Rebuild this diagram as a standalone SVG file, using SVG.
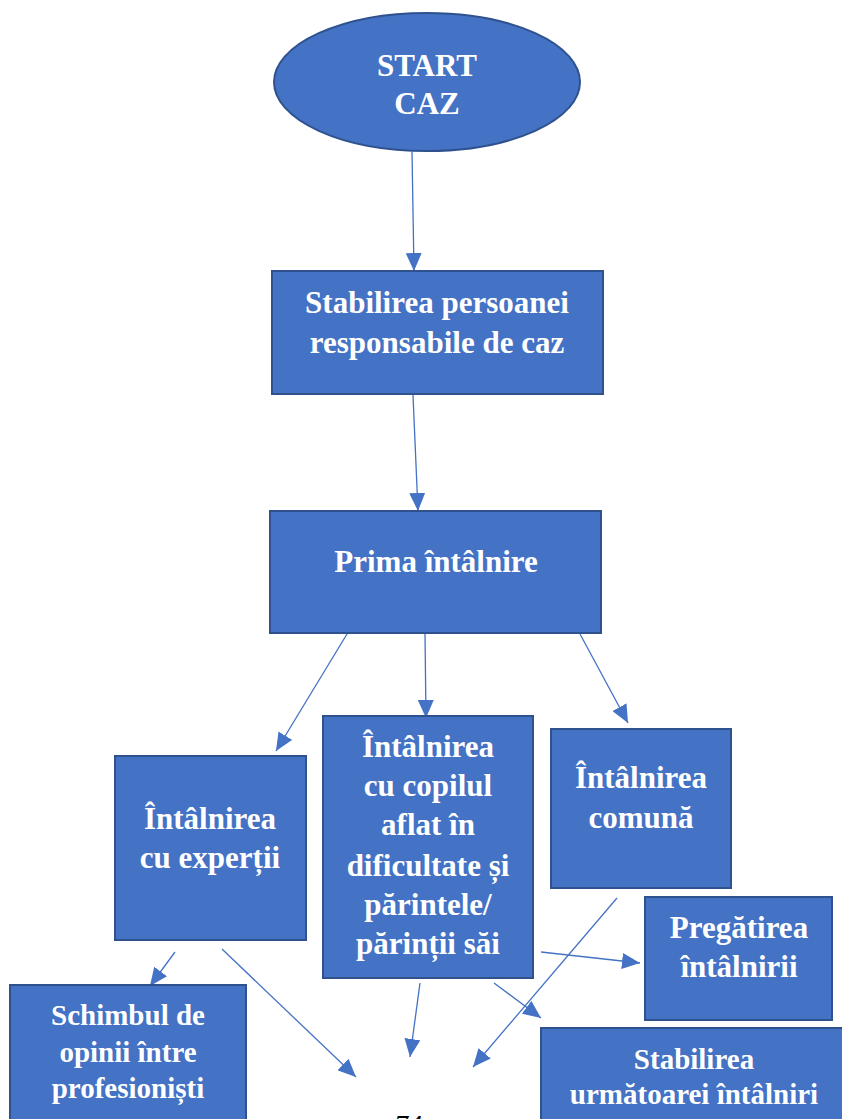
<svg xmlns="http://www.w3.org/2000/svg" width="842" height="1119" viewBox="0 0 842 1119">
<style>
.box{fill:#4472C4;stroke:#2F528F;stroke-width:2}
.t{font-family:"Liberation Serif","Times New Roman",serif;font-weight:bold;fill:#fff;text-anchor:middle;font-size:31px}
.s{font-size:29px}
.c{stroke:#4472C4;stroke-width:1.3;fill:none;marker-end:url(#ah)}
</style>
<defs>
<marker id="ah" markerUnits="userSpaceOnUse" markerWidth="20" markerHeight="16" refX="18" refY="8" orient="auto">
<path d="M0,0 L18,8 L0,16 Z" fill="#4472C4"/>
</marker>
</defs>
<g id="connectors">
<line class="c" x1="412" y1="152" x2="414" y2="271"/>
<line class="c" x1="413" y1="395" x2="418" y2="511"/>
<line class="c" x1="347" y1="634" x2="276" y2="751"/>
<line class="c" x1="425" y1="634" x2="426" y2="718"/>
<line class="c" x1="580" y1="634" x2="628" y2="723"/>
<line class="c" x1="175" y1="952" x2="150" y2="986"/>
<line class="c" x1="222" y1="949" x2="356" y2="1077"/>
<line class="c" x1="541" y1="952" x2="640" y2="963"/>
<line class="c" x1="420" y1="983" x2="410" y2="1057"/>
<line class="c" x1="494" y1="983" x2="541" y2="1018"/>
<line class="c" x1="617" y1="898" x2="473" y2="1067"/>
</g>
<g id="start">
<ellipse class="box" cx="427" cy="82" rx="153" ry="69"/>
<text class="t" x="427" y="76" font-size="34">START</text>
<text class="t" x="427" y="114" font-size="34">CAZ</text>
</g>
<g id="responsabil">
<rect class="box" x="272" y="271" width="331" height="123"/>
<text class="t" x="437" y="313">Stabilirea persoanei</text>
<text class="t" x="437" y="353">responsabile de caz</text>
</g>
<g id="prima">
<rect class="box" x="270" y="511" width="331" height="122"/>
<text class="t" x="436" y="572">Prima întâlnire</text>
</g>
<g id="experti">
<rect class="box" x="115" y="756" width="191" height="184"/>
<text class="t" x="210" y="829">Întâlnirea</text>
<text class="t" x="210" y="868">cu experții</text>
</g>
<g id="copil">
<rect class="box" x="323" y="716" width="210" height="262"/>
<text class="t" x="428" y="757">Întâlnirea</text>
<text class="t" x="428" y="796">cu copilul</text>
<text class="t" x="428" y="835">aflat în</text>
<text class="t" x="428" y="876">dificultate și</text>
<text class="t" x="428" y="915">părintele/</text>
<text class="t" x="428" y="954">părinții săi</text>
</g>
<g id="comuna">
<rect class="box" x="551" y="729" width="180" height="159"/>
<text class="t" x="641" y="788">Întâlnirea</text>
<text class="t" x="641" y="828">comună</text>
</g>
<g id="pregatirea">
<rect class="box" x="645" y="897" width="187" height="123"/>
<text class="t" x="739" y="938">Pregătirea</text>
<text class="t" x="739" y="977">întâlnirii</text>
</g>
<g id="schimbul">
<rect class="box" x="10" y="985" width="236" height="140"/>
<text class="t s" x="128" y="1025">Schimbul de</text>
<text class="t s" x="128" y="1062">opinii între</text>
<text class="t s" x="128" y="1098">profesioniști</text>
</g>
<g id="urmatoarea">
<rect class="box" x="541" y="1028" width="310" height="100"/>
<text class="t s" x="694" y="1069">Stabilirea</text>
<text class="t s" x="694" y="1104">următoarei întâlniri</text>
</g>
<text x="408" y="1134" font-family="Liberation Serif, serif" font-style="italic" font-size="28" text-anchor="middle" fill="#000">74</text>
</svg>
